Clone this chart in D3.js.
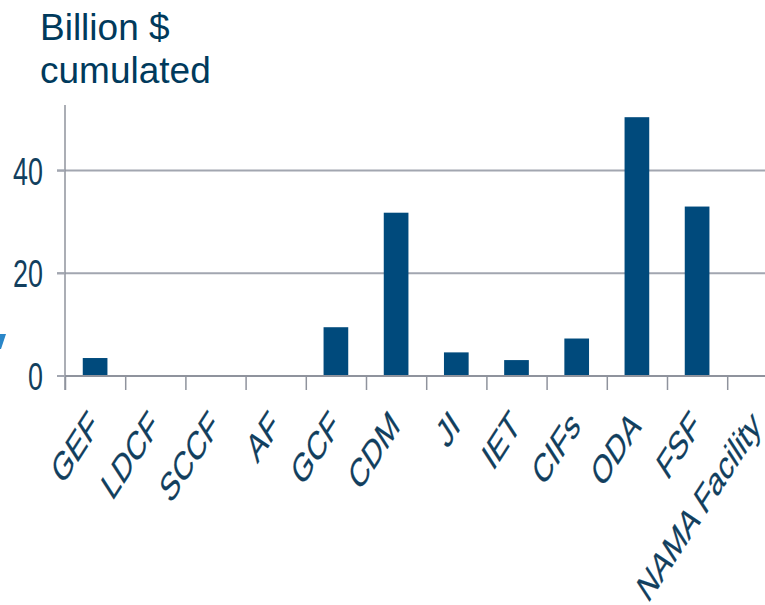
<!DOCTYPE html>
<html>
<head>
<meta charset="utf-8">
<script src="https://cdn.jsdelivr.net/npm/d3@7"></script>
<style>
body { margin: 0; background: #fff; }
svg { display: block; font-family: "Liberation Sans", Arial, sans-serif; }
</style>
</head>
<body>
<script>
// cumulated climate finance, billion $
var funds = ["GEF", "LDCF", "SCCF", "AF", "GCF", "CDM", "JI", "IET", "CIFs", "ODA", "FSF", "NAMA Facility"];
var amounts = [3.5, 0, 0, 0, 9.5, 31.8, 4.6, 3.1, 7.3, 50.4, 33.0, 0];
var yTicks = [0, 20, 40];
var titleLines = ["Billion $", "cumulated"];

var W = 765, H = 605;
var x0 = 65, yBase = 376;
var step = 60.2;

var barColor = "#004a7c";
var textColor = "#123f5e";
var gridColor = "#a2a6b0";

var svg = d3.select(document.body).append("svg")
	.attr("width", W)
	.attr("height", H);

var x = d3.scaleBand()
	.domain(funds)
	.range([x0, x0 + step * funds.length])
	.paddingInner(0.59)
	.paddingOuter(0.295);

var y = d3.scaleLinear()
	.domain([0, 20])
	.range([yBase, 273.3]);

// boundaries between categories, for the tick marks
var edge = d3.scaleLinear()
	.domain([0, funds.length])
	.range([x0, x0 + step * funds.length]);

// title
svg.append("text")
	.attr("fill", "#003a5c")
	.style("font-size", "37px")
	.selectAll("tspan")
	.data(titleLines)
	.join("tspan")
	.attr("x", 40)
	.attr("y", function (d, i) { return 40 + i * 43; })
	.text(function (d) { return d; });

// gridlines
svg.append("g")
	.selectAll("line")
	.data(yTicks.filter(function (d) { return d > 0; }))
	.join("line")
	.attr("x1", 57)
	.attr("x2", W)
	.attr("y1", function (d) { return y(d); })
	.attr("y2", function (d) { return y(d); })
	.attr("stroke", gridColor)
	.attr("stroke-width", 2);

// bars
svg.append("g")
	.selectAll("rect")
	.data(amounts)
	.join("rect")
	.attr("x", function (d, i) { return x(funds[i]); })
	.attr("width", x.bandwidth())
	.attr("y", function (d) { return y(d); })
	.attr("height", function (d) { return yBase - y(d); })
	.attr("fill", barColor);

// y axis line
svg.append("line")
	.attr("x1", x0).attr("x2", x0)
	.attr("y1", 105).attr("y2", 390)
	.attr("stroke", "#8f939d")
	.attr("stroke-width", 1.5);

// x axis line + ticks
svg.append("line")
	.attr("x1", 57).attr("x2", W)
	.attr("y1", yBase).attr("y2", yBase)
	.attr("stroke", "#8f939d")
	.attr("stroke-width", 2);

var xAxis = d3.axisBottom(edge)
	.tickValues(d3.range(funds.length + 1))
	.tickSize(14)
	.tickFormat("");
var gx = svg.append("g")
	.attr("transform", "translate(0," + yBase + ")")
	.call(xAxis);
gx.select(".domain").remove();
gx.selectAll(".tick line").attr("stroke", "#8f939d").attr("stroke-width", 1.5);

// y tick labels (narrow, the source is squashed sideways)
svg.append("g")
	.selectAll("text")
	.data(yTicks)
	.join("text")
	.attr("transform", function (d) {
		return "translate(43," + y(d) + ") scale(0.69,1)";
	})
	.attr("text-anchor", "end")
	.attr("dy", "0.36em")
	.attr("fill", textColor)
	.style("font-size", "39px")
	.text(function (d) { return d; });

svg.append("g")
	.selectAll("line")
	.data(yTicks)
	.join("line")
	.attr("x1", 57).attr("x2", x0)
	.attr("y1", function (d) { return y(d); })
	.attr("y2", function (d) { return y(d); })
	.attr("stroke", gridColor)
	.attr("stroke-width", 2);

// category labels, rotated and squashed
svg.append("g")
	.selectAll("text")
	.data(funds)
	.join("text")
	.attr("transform", function (d) {
		var cx = x(d) + x.bandwidth() / 2 + 5;
		return "translate(" + cx + ",428) scale(0.65,1) rotate(-45)";
	})
	.attr("text-anchor", "end")
	.attr("fill", textColor)
	.style("font-size", "40px")
	.style("stroke", textColor)
	.style("stroke-width", 0.25)
	.text(function (d) { return d; });

// stray mark at the left edge of the slide
svg.append("path")
	.attr("d", "M0,334 L6,334 L1,349 L0,349 Z")
	.attr("fill", "#2a86c8");
</script>
</body>
</html>
